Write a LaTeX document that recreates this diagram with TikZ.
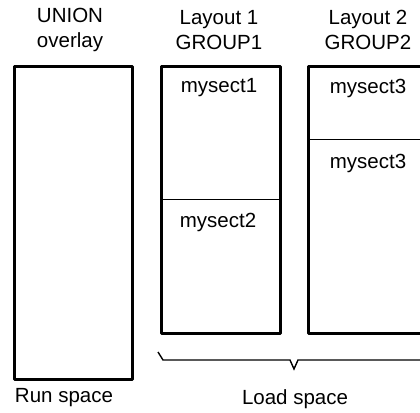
\documentclass[tikz,border=0pt]{standalone}
\usepackage{fontspec}
\setmainfont{Liberation Sans}
\usetikzlibrary{positioning}

\tikzset{
  space box/.style={
    draw,
    line width=2.8pt,
    line join=round,
    anchor=north west,
    inner sep=0pt,
  },
  divider/.style={
    line width=0.9pt,
  },
  sect label/.style={
    font=\fontsize{20.5}{25}\selectfont,
    inner sep=0pt,
  },
  head label/.style={
    font=\fontsize{20.5}{25}\selectfont,
    align=center,
    inner sep=0pt,
  },
  load brace/.style={
    line width=1.4pt,
    line join=miter,
  },
}

\begin{document}
\begin{tikzpicture}[x=1pt, y=-1pt]

  \useasboundingbox (0,0) rectangle (420,412);

  % the three spaces
  \node[space box, minimum width=118, minimum height=313] (union) at (13,65) {};
  \node[space box, minimum width=119, minimum height=267] (layout1) at (160,65) {};
  \node[space box, minimum width=123, minimum height=267] (layout2) at (307,65) {};

  \draw[divider] (layout1.west |- 0,199) -- (layout1.east |- 0,199);
  \draw[divider] (layout2.west |- 0,139) -- (layout2.east |- 0,139);

  % headings
  \node[head label] (unionhead) at (70,30) {UNION\\overlay};
  \node[head label] (layout1head) at (219,30) {Layout 1\\GROUP1};
  \node[head label] (layout2head) at (368,30) {Layout 2\\GROUP2};

  % sections
  \foreach \name/\x/\y/\n in {s1/219/88/1, s2/218/222/2, s3/368/88/3, s4/368/163/3} {
    \node[sect label] (\name) at (\x,\y) {mysect\n};
  }

  % load brace
  \draw[load brace] (158,352) -- (163,360) -- (290,360) -- (294,369)
    -- (298,360) -- (430,360);

  \node[sect label] (run) at (64,398) {Run space};
  \node[sect label] (load) at (295,399) {Load space};

\end{tikzpicture}
\end{document}
